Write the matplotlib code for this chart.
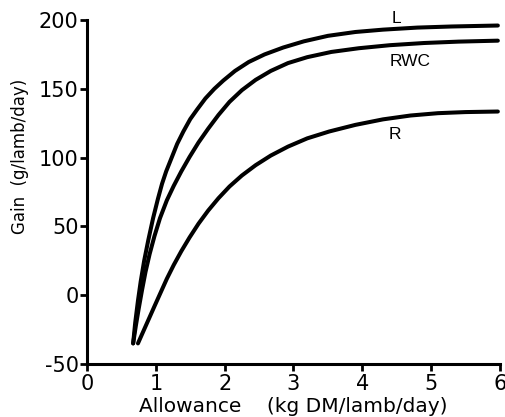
import matplotlib
matplotlib.use("Agg")
import matplotlib.pyplot as plt

# Data
L_x = [0.67, 0.70, 0.74, 0.78, 0.83, 0.89, 0.96, 1.03, 1.09, 1.15, 1.23, 1.31, 1.40, 1.50,
       1.60, 1.72, 1.85, 1.98, 2.15, 2.35, 2.58, 2.85, 3.15, 3.50, 3.90, 4.30, 4.80, 5.30, 5.97]
L_y = [-35, -20, -4, 10, 25, 40, 56, 70, 81, 90, 100, 110, 119, 128,
       135, 143, 150, 156, 163, 169.5, 175, 180, 184.5, 188.5, 191.3, 193, 194.5, 195.3, 196]

RWC_x = [0.67, 0.71, 0.75, 0.80, 0.85, 0.91, 0.98, 1.06, 1.16, 1.26, 1.37, 1.49, 1.62, 1.76,
         1.91, 2.07, 2.25, 2.45, 2.67, 2.92, 3.20, 3.55, 3.95, 4.40, 4.90, 5.40, 5.97]
RWC_y = [-35, -22, -10, 4, 17, 30, 43, 56, 69, 79.5, 90, 100.5, 111, 121,
         131, 140.5, 149, 156.5, 163, 168.7, 173, 176.8, 179.5, 181.7, 183.3, 184.3, 185]

R_x = [0.74, 0.82, 0.90, 0.98, 1.07, 1.16, 1.26, 1.37, 1.49, 1.62, 1.76, 1.91, 2.07,
       2.25, 2.45, 2.67, 2.92, 3.20, 3.52, 3.90, 4.30, 4.70, 5.10, 5.50, 5.97]
R_y = [-35, -26, -17, -8, 2, 12, 22, 32, 42, 52, 61.5, 70.5, 79,
       87, 94.5, 101.5, 108, 114, 119, 123.8, 127.8, 130.6, 132.3, 133.1, 133.5]

curve_labels = ["L", "RWC", "R"]
label_x = [4.49, 4.69, 4.48]
label_y = [201, 169.5, 117]

x_ticks = [0, 1, 2, 3, 4, 5, 6]
y_ticks = [-50, 0, 50, 100, 150, 200]
y_tick_labels = ["-50", "0", "50", "100", "150", "200"]

plt.rcParams['font.family'] = ['DejaVu Sans']

fig = plt.figure(figsize=(5.06, 4.17), dpi=100)
ax = fig.add_axes([0.172, 0.127, 0.816, 0.825])

for xs, ys in [(L_x, L_y), (RWC_x, RWC_y), (R_x, R_y)]:
    ax.plot(xs, ys, color='black', lw=2.9, solid_capstyle='round', solid_joinstyle='round')

for t, x, y in zip(curve_labels, label_x, label_y):
    ax.text(x, y, t, ha='center', va='center', fontsize=12.5,
            family='Liberation Sans', color='black')

ax.set_xlim(0, 6)
ax.set_ylim(-50, 200)
ax.set_xticks(x_ticks)
ax.set_yticks(y_ticks)
ax.set_xticklabels([str(v) for v in x_ticks])
ax.set_yticklabels(y_tick_labels)

for s in ['top', 'right']:
    ax.spines[s].set_visible(False)
for s in ['left', 'bottom']:
    ax.spines[s].set_linewidth(2.2)

ax.tick_params(axis='both', direction='out', length=5, width=2, labelsize=15, colors='black')
ax.tick_params(axis='x', pad=2)
ax.tick_params(axis='y', pad=1)

fig.text(0.579, 0.025, "Allowance    (kg DM/lamb/day)", ha='center', va='center', fontsize=14.5)
fig.text(0.040, 0.626, "Gain  (g/lamb/day)", ha='center', va='center', rotation=90, fontsize=12)

fig.savefig("out.png", dpi=100)
